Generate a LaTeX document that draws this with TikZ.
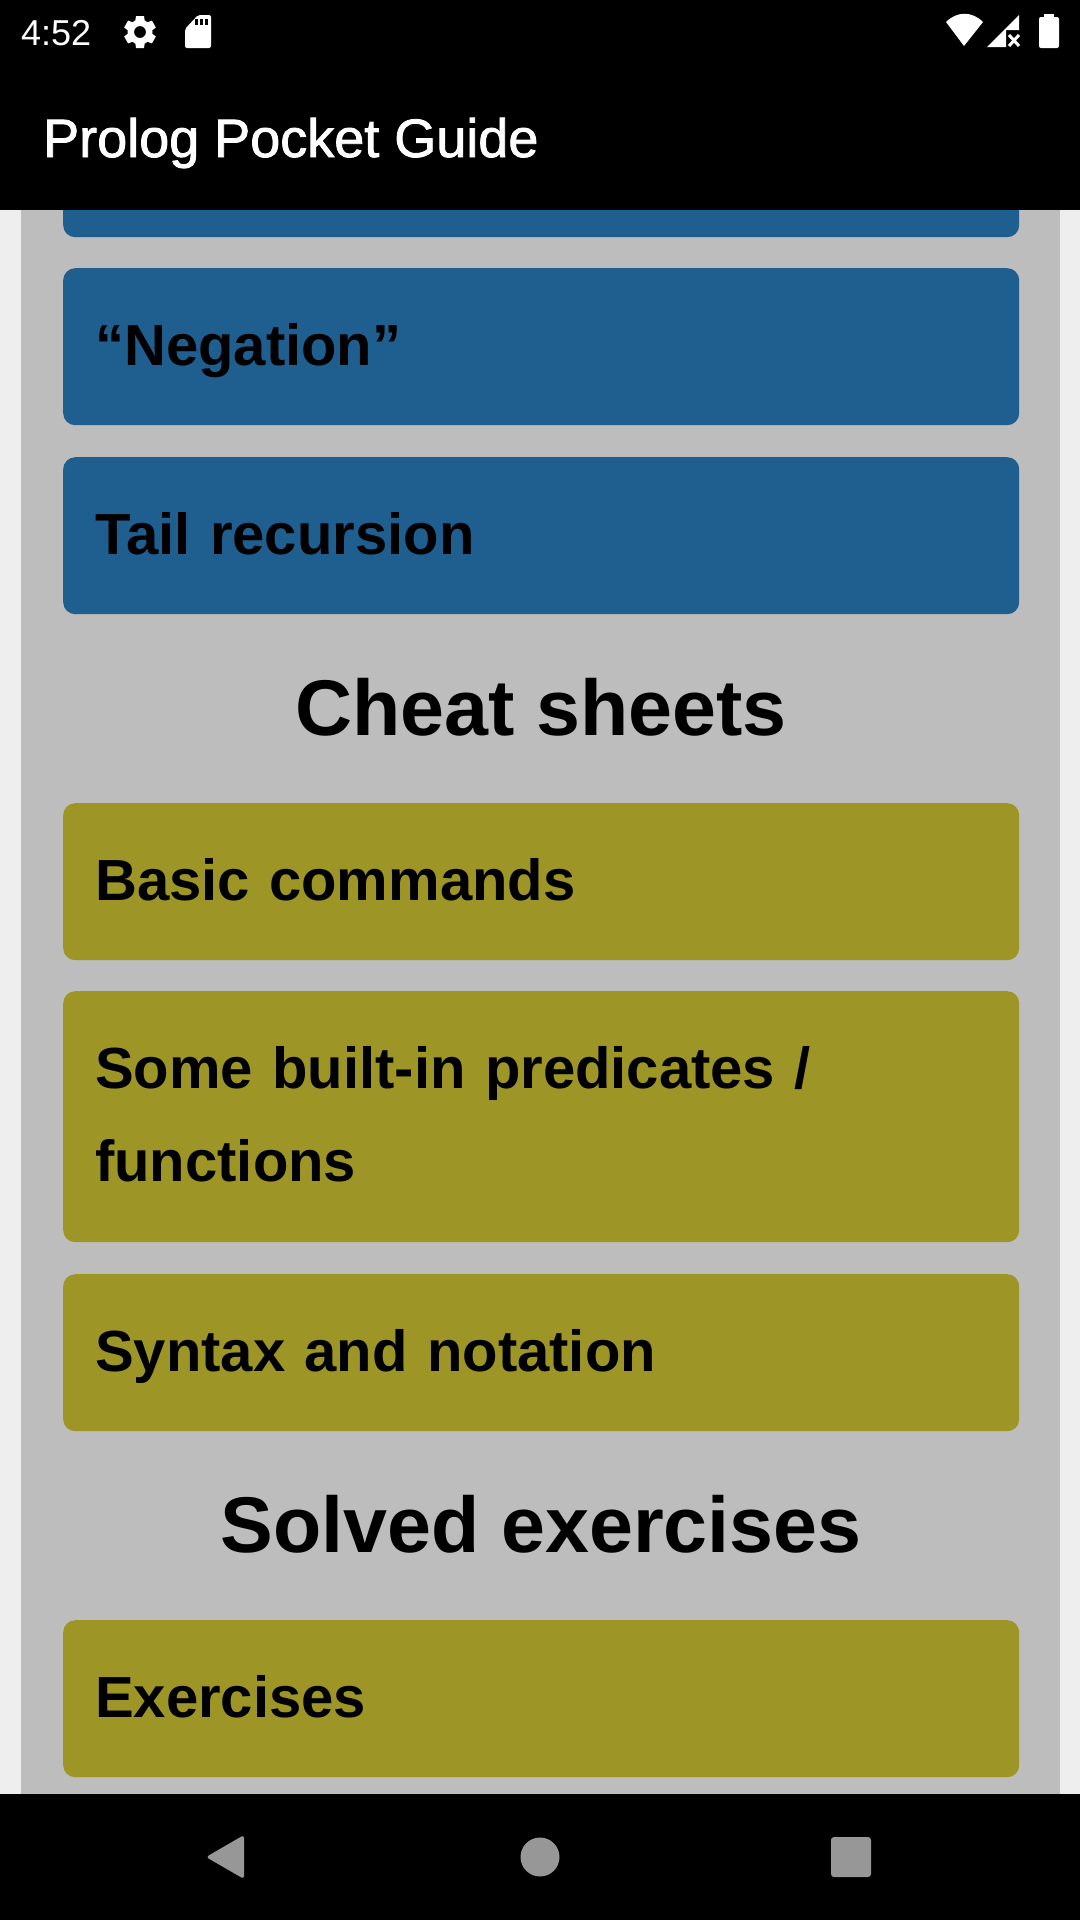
\documentclass[tikz,border=0pt]{standalone}
\usepackage{fontspec}
\setmainfont{Liberation Sans}
\newfontfamily\mediumfont[FakeBold=1.5]{Liberation Sans}
\usetikzlibrary{positioning}

\definecolor{pagegray}{HTML}{EEEEEE}
\definecolor{panelgray}{HTML}{BDBDBD}
\definecolor{topicblue}{HTML}{1F5F90}
\definecolor{sheetolive}{HTML}{9D9627}
\definecolor{navgray}{HTML}{979797}

\newcommand{\cardstrut}{\rule[-28pt]{0pt}{93pt}}

\tikzset{
    card/.style={rounded corners=12pt, minimum width=956pt, minimum height=157pt,
        text width=892pt, inner xsep=32pt, inner ysep=0pt, align=left, anchor=north west,
        font=\fontsize{58}{93}\selectfont\bfseries, text=black},
    heading/.style={font=\fontsize{79}{90}\selectfont\bfseries, text=black, anchor=base},
    barfill/.style={fill=black, draw=none}
}

\begin{document}
\begin{tikzpicture}[x=1pt, y=-1pt]
    \useasboundingbox (0,0) rectangle (1080,1920);
    \fill[pagegray] (0,0) rectangle (1080,1920);
    \fill[panelgray] (21,0) rectangle (1060,1920);

    % blue cards
    \node[card, fill=topicblue] (hidden) at (63,80) {};
    \node[card, fill=topicblue] (negation) at (63,268) {\cardstrut“Negation”};
    \node[card, fill=topicblue] (tail) at (63,457) {\cardstrut Tail recursion};

    \node[heading] (cheat) at (541,735) {Cheat sheets};

    % olive cards
    \node[card, fill=sheetolive] (basic) at (63,803) {\cardstrut Basic commands};
    \node[card, fill=sheetolive, minimum height=251pt] (builtin) at (63,991) {\cardstrut Some built-in predicates /\\\cardstrut functions};
    \node[card, fill=sheetolive] (syntax) at (63,1274) {\cardstrut Syntax and notation};

    \node[heading] (solved) at (541,1552) {Solved exercises};

    \node[card, fill=sheetolive] (exercises) at (63,1620) {\cardstrut Exercises};

    % bars
    \fill[barfill] (0,0) rectangle (1080,210);
    \fill[barfill] (0,1794) rectangle (1080,1920);

    \node[anchor=base west, inner sep=0pt, text=white, font=\fontsize{36}{40}\selectfont] (clock) at (21,45) {4:52};
    \node[anchor=base west, inner sep=0pt, text=white, font=\fontsize{54}{60}\mediumfont] (title) at (43,157) {Prolog Pocket Guide};

    % gear
    \fill[white, even odd rule] (140,32) circle (12.5) (140,32) circle (6);
    \foreach \a in {0,60,...,300}
        \fill[white, rotate around={\a:(140,32)}] (136,16) -- (144,16) -- (145,23) -- (135,23) -- cycle;

    % sd card
    \fill[white, rounded corners=2pt] (185,29) -- (198,15) -- (211,15) -- (211,48) -- (185,48) -- cycle;
    \foreach \x in {195,200,205}
        \fill[black] (\x,19) rectangle +(3,6);

    % wifi
    \fill[white] (964,46) -- (946,22) .. controls (957,11) and (972,11) .. (983,22) -- cycle;

    % signal
    \fill[white] (987,47) -- (1019,15) -- (1019,30) -- (1006,30) -- (1006,47) -- cycle;
    \draw[white, line width=3pt] (1009,35) -- (1019,46) (1019,35) -- (1009,46);

    % battery
    \fill[white, rounded corners=2pt] (1039,17) rectangle (1059,48);
    \fill[white] (1044,14) rectangle (1054,18);

    % nav buttons
    \fill[navgray, rounded corners=3pt] (244,1835) -- (244,1879) -- (206,1857) -- cycle;
    \fill[navgray] (540,1857) circle (19.5);
    \fill[navgray, rounded corners=3pt] (831,1837) rectangle (871,1877);
\end{tikzpicture}
\end{document}
